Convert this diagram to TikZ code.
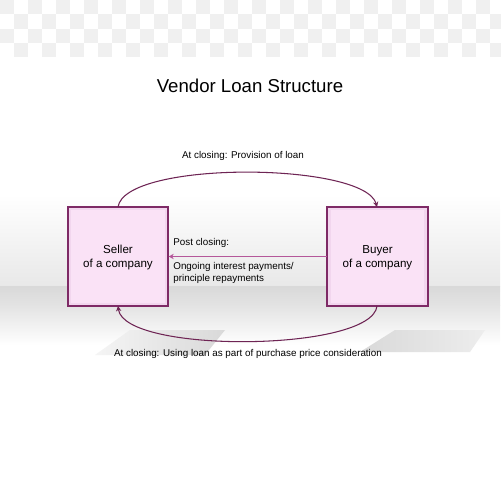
\documentclass[tikz,border=0pt]{standalone}
\usepackage{fontspec}
\setmainfont{Liberation Sans}
\usetikzlibrary{arrows.meta,shadings}
\definecolor{boxborder}{HTML}{7E2A66}
\definecolor{boxfill}{HTML}{FAE2F6}
\definecolor{boxedge}{HTML}{F2D6EE}
\definecolor{arcc}{HTML}{6E2454}
\definecolor{harrow}{HTML}{B4579A}
\definecolor{checker}{HTML}{F0F0F0}
\tikzset{
  company/.style={draw=boxborder, line width=0.6pt, fill=boxedge, minimum width=2cm, minimum height=1.98cm, inner sep=0pt},
  lbl/.style={font=\fontsize{5.6}{6.8}\selectfont, inner sep=0pt},
  boxtxt/.style={font=\fontsize{6.6}{8}\selectfont, align=center, inner sep=0pt},
  arc/.style={draw=arcc, line width=0.6pt, -{Stealth[length=3pt,width=3pt]}},
}
\begin{document}
\begin{tikzpicture}[x={(0.02cm,0)}, y={(0,-0.02cm)}]
\useasboundingbox (0,0) rectangle (500,500);
\fill[white] (0,0) rectangle (500,500);
% checker watermark
\foreach \i in {0,...,35} {
  \foreach \j in {0,1,2,3} {
    \pgfmathtruncatemacro{\myp}{mod(\i+\j,2)}
    \ifnum\myp=0
      \fill[checker] ({\i*14},{\j*14.3}) rectangle ({\i*14+14},{\j*14.3+14.3});
    \fi
  }
}
% background gradient band
\shade[top color=white, bottom color=black!9] (0,195) rectangle (500,286);
\shade[top color=black!15, bottom color=black!11] (0,286) rectangle (500,305);
\shade[top color=black!11, bottom color=white] (0,305) rectangle (500,345);
% shadows
\shade[left color=black!4, right color=black!15] (95,355) -- (130,330) -- (225,330) -- (205,355) -- cycle;
\shade[left color=black!15, right color=black!7] (360,352) -- (395,330) -- (485,330) -- (470,352) -- cycle;
% title
\node[font=\fontsize{10.6}{12}\selectfont, inner sep=0pt] (title) at (250,86) {Vendor Loan Structure};
% boxes
\node[company] (seller) at (118,256.5) {};
\node[company] (buyer) at (377.5,256.5) {};
\fill[boxfill] ([shift={(2.2pt,-2.2pt)}]seller.north west) rectangle ([shift={(-2.2pt,2.2pt)}]seller.south east);
\fill[boxfill] ([shift={(2.2pt,-2.2pt)}]buyer.north west) rectangle ([shift={(-2.2pt,2.2pt)}]buyer.south east);
\draw[boxborder, line width=0.6pt] (seller.north west) rectangle (seller.south east);
\draw[boxborder, line width=0.6pt] (buyer.north west) rectangle (buyer.south east);
\node[boxtxt] (sellertxt) at (118,257.5) {Seller\\of a company};
\node[boxtxt] (buyertxt) at (377.5,257.5) {Buyer\\of a company};
% connectors
\coordinate (stop) at (118,207);
\coordinate (btop) at (377,207);
\coordinate (sbot) at (118,306);
\coordinate (bbot) at (377,306);
\draw[arc] (stop) .. controls (125,160) and (365,162) .. (btop);
\draw[arc] (bbot) .. controls (372,352) and (124,354) .. (sbot);
\draw[draw=harrow, line width=0.8pt, -{Stealth[length=3pt,width=3pt]}] (buyer.west) -- (seller.east);
% labels
\node[lbl] (toplbl) at (243,155.5) {At closing: Provision of loan};
\node[lbl, anchor=west] (post) at (173,243) {Post closing:};
\node[lbl, anchor=north west, align=left] (ongoing) at (173,262) {Ongoing interest payments/\\principle repayments};
\node[lbl] (botlbl) at (248,353.5) {At closing: Using loan as part of purchase price consideration};
\end{tikzpicture}
\end{document}
